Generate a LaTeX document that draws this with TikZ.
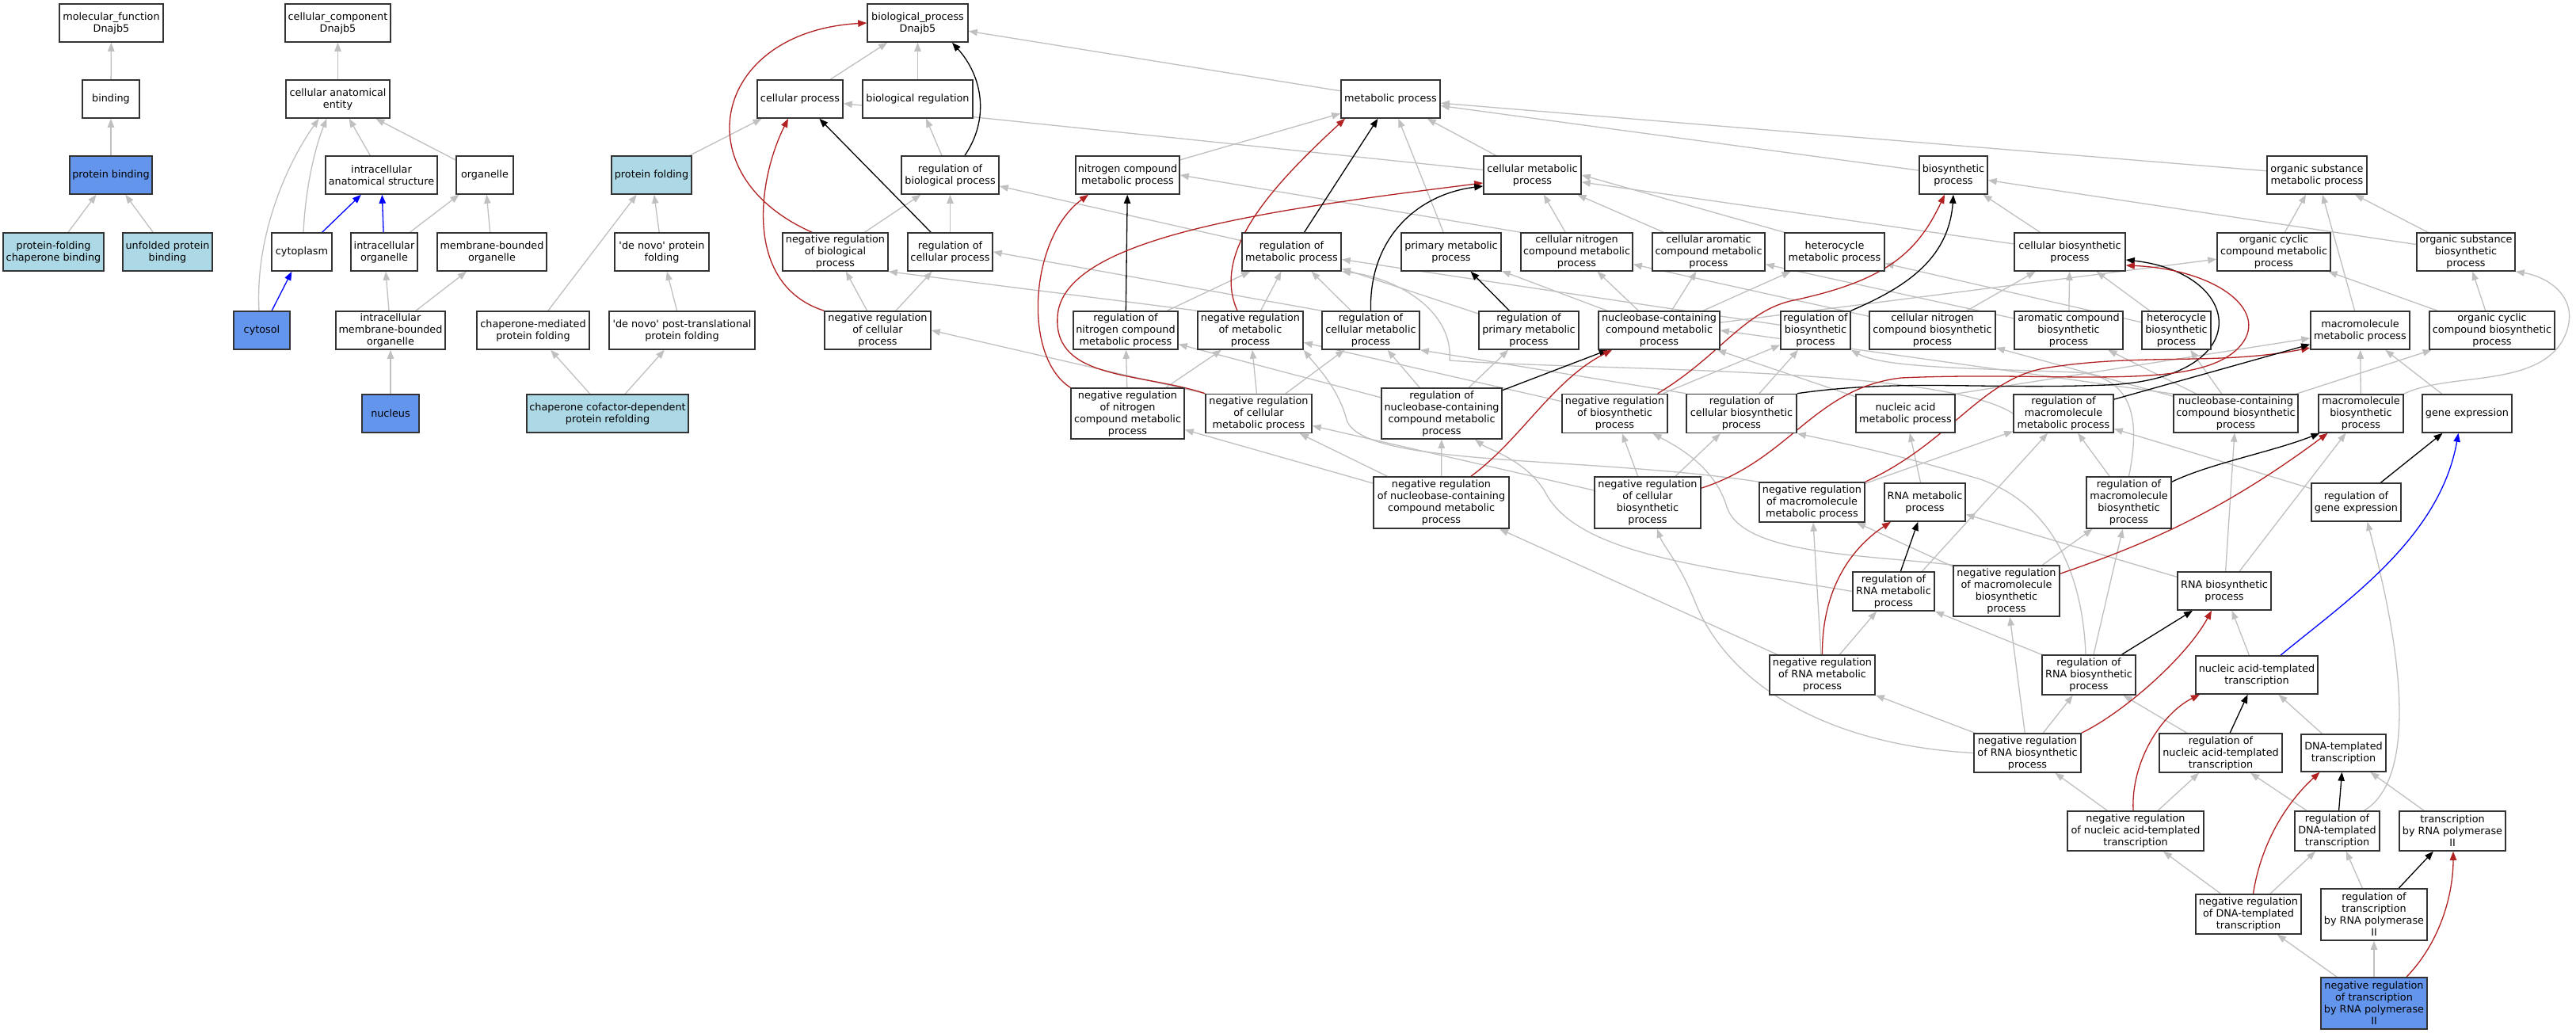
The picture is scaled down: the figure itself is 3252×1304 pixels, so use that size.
\documentclass[tikz,border=0pt]{standalone}
\usepackage{fontspec}
\setmainfont{DejaVu Sans}
\usetikzlibrary{arrows.meta}
\definecolor{eg}{HTML}{C0C0C0}
\definecolor{fb}{HTML}{B22222}
\definecolor{cfb}{HTML}{6495ED}
\definecolor{lbl}{HTML}{ADD8E6}
\pgfdeclarelayer{bgzero}
\pgfdeclarelayer{edges}
\pgfsetlayers{bgzero,edges,main}
\newcommand\gn[7]{\node[box,bx={#4}{#5},#6] (#1) at (#2,#3) {#7};}
\newcommand\dn{\textquotesingle de novo\textquotesingle}
\begin{document}
\begin{tikzpicture}[x=0.5pt,y=-0.5pt,
  box/.style={draw=black!80, line width=0.8pt, fill=white, inner sep=0pt, align=center, font=\fontsize{6.4}{7.5}\selectfont},
  bx/.style 2 args={minimum width=#1*0.5pt, minimum height=#2*0.5pt},
  dk/.style={fill=cfb}, lt/.style={fill=lbl},
  ge/.style={draw=eg, line width=0.65pt, -{Triangle[length=5.5pt,width=4.2pt]}},
  bk/.style={draw=black, line width=0.65pt, -{Triangle[length=5.5pt,width=4.2pt]}},
  rd/.style={draw=fb, line width=0.65pt, -{Triangle[length=5.5pt,width=4.2pt]}},
  bl/.style={draw=blue, line width=0.65pt, -{Triangle[length=5.5pt,width=4.2pt]}},
]
\useasboundingbox (0,0) rectangle (3252,1304);
\begin{pgfonlayer}{bgzero}
\fill[white] (0,0) rectangle (3252,1304);
\end{pgfonlayer}
% Row A
\gn{mf}{140.5}{29}{131}{48}{}{molecular\_function\\Dnajb5}
\gn{cc}{426.5}{29}{133}{48}{}{cellular\_component\\Dnajb5}
\gn{bp}{1158.5}{29}{127}{48}{}{biological\_process\\Dnajb5}
% Row B
\gn{binding}{140}{125}{72}{48}{}{binding}
\gn{cae}{426.5}{125}{131}{48}{}{cellular anatomical\\entity}
\gn{cellproc}{1010}{125}{108}{48}{}{cellular process}
\gn{bioreg}{1158.5}{125}{139}{48}{}{biological regulation}
\gn{metab}{1755.5}{125}{125}{48}{}{metabolic process}
% Row C
\gn{protbind}{140}{221}{104}{48}{dk}{protein binding}
\gn{ias}{481.5}{221}{141}{48}{}{intracellular\\anatomical structure}
\gn{organelle}{612}{221}{72}{48}{}{organelle}
\gn{protfold}{822.5}{221}{101}{48}{lt}{protein folding}
\gn{regbp}{1199.5}{221}{123}{48}{}{regulation of\\biological process}
\gn{ncmp}{1423.5}{221}{131}{48}{}{nitrogen compound\\metabolic process}
\gn{cmp}{1934.5}{221}{123}{48}{}{cellular metabolic\\process}
\gn{biosyn}{2466}{221}{86}{48}{}{biosynthetic\\process}
\gn{osmp}{2925}{221}{126}{48}{}{organic substance\\metabolic process}
% Row D
\gn{pfcb}{67.5}{318}{127}{48}{lt}{protein-folding\\chaperone binding}
\gn{upb}{211.5}{318}{113}{48}{lt}{unfolded protein\\binding}
\gn{cytoplasm}{381}{318}{76}{48}{}{cytoplasm}
\gn{io}{485}{318}{84}{48}{}{intracellular\\organelle}
\gn{mbo}{621}{318}{138}{48}{}{membrane-bounded\\organelle}
\gn{dnpf}{835.5}{318}{119}{48}{}{\dn{} protein\\folding}
\gn{nrbp}{1054.5}{318}{133}{48}{}{negative regulation\\of biological\\process}
\gn{rcp}{1199.5}{318}{107}{48}{}{regulation of\\cellular process}
\gn{rmp}{1630.5}{318}{125}{48}{}{regulation of\\metabolic process}
\gn{pmp}{1832}{318}{126}{48}{}{primary metabolic\\process}
\gn{cncmp}{1990.5}{318}{141}{48}{}{cellular nitrogen\\compound metabolic\\process}
\gn{camp}{2157}{318}{142}{48}{}{cellular aromatic\\compound metabolic\\process}
\gn{hmp}{2316}{318}{126}{48}{}{heterocycle\\metabolic process}
\gn{cbp}{2613}{318}{140}{48}{}{cellular biosynthetic\\process}
\gn{occmp}{2870.5}{318}{143}{48}{}{organic cyclic\\compound metabolic\\process}
\gn{osbp}{3113}{318}{124}{48}{}{organic substance\\biosynthetic\\process}
% Row E
\gn{cytosol}{330.5}{417}{71}{48}{dk}{cytosol}
\gn{imbo}{493}{417}{138}{48}{}{intracellular\\membrane-bounded\\organelle}
\gn{cmpf}{673}{417}{142}{48}{}{chaperone-mediated\\protein folding}
\gn{dnptpf}{861}{417}{184}{48}{}{\dn{} post-translational\\protein folding}
\gn{nrcp}{1108}{417}{134}{48}{}{negative regulation\\of cellular\\process}
\gn{rncmp}{1421}{417}{132}{48}{}{regulation of\\nitrogen compound\\metabolic process}
\gn{nrmp}{1578.5}{417}{133}{48}{}{negative regulation\\of metabolic\\process}
\gn{rcmp}{1730.5}{417}{123}{48}{}{regulation of\\cellular metabolic\\process}
\gn{rpmp}{1930}{417}{126}{48}{}{regulation of\\primary metabolic\\process}
\gn{ncbcmp}{2094.5}{417}{153}{48}{}{nucleobase-containing\\compound metabolic\\process}
\gn{rbp}{2292}{417}{88}{48}{}{regulation of\\biosynthetic\\process}
\gn{cncbp}{2439.5}{417}{159}{48}{}{cellular nitrogen\\compound biosynthetic\\process}
\gn{acbp}{2611.5}{417}{137}{48}{}{aromatic compound\\biosynthetic\\process}
\gn{hbp}{2747.5}{417}{87}{48}{}{heterocycle\\biosynthetic\\process}
\gn{mmp}{2979.5}{417}{125}{48}{}{macromolecule\\metabolic process}
\gn{occbp}{3146}{417}{158}{48}{}{organic cyclic\\compound biosynthetic\\process}
% Row F
\gn{nucleus}{493}{522}{72}{48}{dk}{nucleus}
\gn{ccdprf}{767}{522}{204}{48}{lt}{chaperone cofactor-dependent\\protein refolding}
\gn{nrncmp}{1423.5}{522}{143}{64}{}{negative regulation\\of nitrogen\\compound metabolic\\process}
\gn{nrcmp}{1589}{522}{134}{49}{}{negative regulation\\of cellular\\metabolic process}
\gn{rncbcmp}{1820}{522}{152}{64}{}{regulation of\\nucleobase-containing\\compound metabolic\\process}
\gn{nrbsp}{2038.5}{522}{133}{49}{}{negative regulation\\of biosynthetic\\process}
\gn{rcbp}{2198.5}{522}{139}{49}{}{regulation of\\cellular biosynthetic\\process}
\gn{namp}{2405.5}{522}{125}{48}{}{nucleic acid\\metabolic process}
\gn{rmmp}{2605}{522}{126}{48}{}{regulation of\\macromolecule\\metabolic process}
\gn{ncbcbp}{2822.5}{522}{157}{48}{}{nucleobase-containing\\compound biosynthetic\\process}
\gn{mbp}{2980.5}{522}{107}{48}{}{macromolecule\\biosynthetic\\process}
\gn{gexp}{3114.5}{522}{113}{48}{}{gene expression}
% Row G
\gn{nrncbcmp}{1819.5}{634.5}{171}{65}{}{negative regulation\\of nucleobase-containing\\compound metabolic\\process}
\gn{nrcbp}{2080}{634.5}{134}{65}{}{negative regulation\\of cellular\\biosynthetic\\process}
\gn{nrmmp}{2287.5}{634}{133}{50}{}{negative regulation\\of macromolecule\\metabolic process}
\gn{rnamp}{2430}{634}{102}{48}{}{RNA metabolic\\process}
\gn{rmbp}{2687.5}{634.5}{107}{65}{}{regulation of\\macromolecule\\biosynthetic\\process}
\gn{rge}{2974.5}{634}{113}{48}{}{regulation of\\gene expression}
% Row H
\gn{rrnamp}{2390.5}{746.5}{103}{49}{}{regulation of\\RNA metabolic\\process}
\gn{nrmbp}{2533}{746}{134}{64}{}{negative regulation\\of macromolecule\\biosynthetic\\process}
\gn{rnabp}{2808}{746}{118}{48}{}{RNA biosynthetic\\process}
% Row I
\gn{nrrnamp}{2300.5}{852}{133}{50}{}{negative regulation\\of RNA metabolic\\process}
\gn{rrnabp}{2637}{852}{118}{50}{}{regulation of\\RNA biosynthetic\\process}
\gn{natt}{2849}{852}{154}{48}{}{nucleic acid-templated\\transcription}
% Row J
\gn{nrrnabp}{2559.5}{950.5}{135}{49}{}{negative regulation\\of RNA biosynthetic\\process}
\gn{rnatt}{2803.5}{950.5}{155}{49}{}{regulation of\\nucleic acid-templated\\transcription}
\gn{dnatt}{2958.5}{950.5}{107}{47}{}{DNA-templated\\transcription}
% Row K
\gn{nrnatt}{2696}{1049}{172}{50}{}{negative regulation\\of nucleic acid-templated\\transcription}
\gn{rdnatt}{2950.5}{1049}{107}{50}{}{regulation of\\DNA-templated\\transcription}
\gn{trp2}{3096}{1049}{134}{50}{}{transcription\\by RNA polymerase\\II}
% Row L, M
\gn{nrdnatt}{2838.5}{1154}{133}{50}{}{negative regulation\\of DNA-templated\\transcription}
\gn{rtrp2}{2997}{1154.5}{134}{65}{}{regulation of\\transcription\\by RNA polymerase\\II}
\gn{nrtrp2}{2997}{1266.5}{134}{65}{dk}{negative regulation\\of transcription\\by RNA polymerase\\II}

\begin{pgfonlayer}{edges}
% left part
\draw[ge] (binding) -- (mf);
\draw[ge] (protbind) -- (binding);
\draw[ge] (pfcb) -- (protbind);
\draw[ge] (upb) -- (protbind);
\draw[ge] (cae) -- (cc);
\draw[ge] (ias) -- (cae);
\draw[ge] (organelle) -- (cae);
\draw[ge] ([xshift=-1.75pt]cytosol.north) .. controls (322,300) and (360,210) .. ([xshift=-12pt]cae.south);
\draw[ge] ([xshift=1pt]cytoplasm.north) .. controls (386,230) and (400,180) .. ([xshift=-7pt]cae.south);
\draw[ge] (io) -- (organelle);
\draw[ge] (mbo) -- (organelle);
\draw[ge] (imbo) -- (io);
\draw[ge] (imbo) -- (mbo);
\draw[ge] (nucleus) -- (imbo);
\draw[bl] (cytoplasm) -- (ias);
\draw[bl] (io) -- (ias);
\draw[bl] (cytosol) -- (cytoplasm);
\draw[ge] (protfold) -- (cellproc);
\draw[ge] (dnpf) -- (protfold);
\draw[ge] (cmpf) -- (protfold);
\draw[ge] (dnptpf) -- (dnpf);
\draw[ge] (ccdprf) -- (cmpf);
\draw[ge] (ccdprf) -- (dnptpf);
% biological process, gray
\draw[ge] (cellproc) -- (bp);
\draw[ge] (bioreg) -- (bp);
\draw[ge] (metab) -- (bp);
\draw[ge] (regbp) -- (bioreg);
\draw[ge] (ncmp) -- (metab);
\draw[ge] (cmp) -- (metab);
\draw[ge] (cmp) -- (cellproc);
\draw[ge] (biosyn) -- (metab);
\draw[ge] (osmp) -- (metab);
\draw[ge] (pmp) -- (metab);
\draw[ge] (nrbp) -- (regbp);
\draw[ge] (rcp) -- (regbp);
\draw[ge] (rmp) -- (regbp);
\draw[ge] (cncmp.north west) -- (ncmp.east);
\draw[ge] (cncmp) -- (cmp);
\draw[ge] (camp) -- (cmp);
\draw[ge] (hmp.north west) -- (cmp.east);
\draw[ge] (cbp) -- (cmp);
\draw[ge] (cbp) -- (biosyn);
\draw[ge] (osbp) -- (biosyn);
\draw[ge] (osbp) -- (osmp);
\draw[ge] (occmp) -- (osmp);
\draw[ge] (mmp) -- (osmp);
\draw[ge] (occbp) -- (osbp);
\draw[ge] (occbp) -- (occmp);
\draw[ge] (nrcp) -- (nrbp);
\draw[ge] (nrcp) -- (rcp);
\draw[ge] (nrmp.north west) -- (nrbp.south east);
\draw[ge] (nrmp) -- (rmp);
\draw[ge] (rncmp) -- (rmp);
\draw[ge] (rcmp) -- (rmp);
\draw[ge] (rcmp.north west) -- (rcp.east);
\draw[ge] (rpmp) -- (rmp);
\draw[ge] (rbp) -- (rmp);
\draw[ge] (ncbcmp) -- (pmp);
\draw[ge] (ncbcmp) -- (cncmp);
\draw[ge] (ncbcmp) -- (camp);
\draw[ge] (ncbcmp) -- (hmp);
\draw[ge] (ncbcmp) -- (occmp);
\draw[ge] (cncbp) -- (cncmp);
\draw[ge] (cncbp) -- (cbp);
\draw[ge] (acbp) -- (cbp);
\draw[ge] (acbp) -- (camp);
\draw[ge] (hbp) -- (cbp);
\draw[ge] (hbp) -- (hmp);
\draw[ge] (nrncmp) -- (nrmp);
\draw[ge] (nrncmp) -- (rncmp);
\draw[ge] (nrcmp.north west) -- (nrcp.east);
\draw[ge] (nrcmp) -- (nrmp);
\draw[ge] (nrcmp) -- (rcmp);
\draw[ge] (rncbcmp) -- (rcmp);
\draw[ge] (rncbcmp) -- (rpmp);
\draw[ge] (rncbcmp) -- (rncmp);
\draw[ge] (nrbsp) -- (rbp);
\draw[ge] (nrbsp) -- (nrmp);
\draw[ge] (rcbp) -- (rbp);
\draw[ge] (rcbp.north west) -- (rcmp.south east);
\draw[ge] (namp) -- (ncbcmp);
\draw[ge] (namp.north east) -- (mmp);
\draw[ge] (ncbcbp.north west) -- (ncbcmp.east);
\draw[ge] (ncbcbp) -- (cncbp);
\draw[ge] (ncbcbp) -- (acbp);
\draw[ge] (ncbcbp) -- (hbp);
\draw[ge] (ncbcbp) -- (occbp);
\draw[ge] (mbp) -- (mmp);
\draw[ge] (gexp) -- (mmp);
\draw[ge] (rmmp.west) .. controls (2450,462) and (2000,468) .. (1830,455) .. controls (1835,390) and (1760,350) .. (rmp.south east);
\draw[ge] (mbp.north east) .. controls (3090,470) and (3200,490) .. (3235,430) .. controls (3262,380) and (3220,350) .. (osbp.south east);
\draw[ge] (nrncbcmp) -- (nrncmp);
\draw[ge] (nrncbcmp) -- (nrcmp);
\draw[ge] (nrncbcmp) -- (rncbcmp);
\draw[ge] (nrcbp) -- (nrcmp);
\draw[ge] (nrcbp) -- (nrbsp);
\draw[ge] (nrcbp) -- (rcbp);
\draw[ge] (nrmmp.north west) .. controls (2000,575) and (1720,590) .. (1700,530) .. controls (1690,490) and (1660,460) .. (nrmp.south east);
\draw[ge] (nrmmp) -- (rmmp);
\draw[ge] (rnamp) -- (namp);
\draw[ge] (rmbp) -- (rmmp);
\draw[ge] (rmbp.north) .. controls (2700,540) and (2700,475) .. (2620,470) .. controls (2500,465) and (2380,465) .. (rbp.south east);
\draw[ge] (rge) -- (rmmp);
\draw[ge] (rrnamp.west) .. controls (2150,715) and (1990,700) .. (1950,620) .. controls (1925,580) and (1880,568) .. ([xshift=21pt]rncbcmp.south);
\draw[ge] ([xshift=18pt]rrnamp.north) -- ([xshift=-10pt]rmmp.south);
\draw[ge] (nrmbp) -- (rmbp);
\draw[ge] (nrmbp) -- (nrmmp);
\draw[ge] (nrmbp.north west) .. controls (2350,700) and (2200,700) .. (2180,640) .. controls (2165,590) and (2120,565) .. ([xshift=24pt]nrbsp.south);
\draw[ge] (rnabp) -- (ncbcbp);
\draw[ge] (rnabp) -- (mbp);
\draw[ge] (rnabp) -- (rnamp);
\draw[ge] (rrnabp) -- (rmbp);
\draw[ge] (rrnabp.north west) -- (rrnamp.south east);
\draw[ge] ([xshift=-2pt]rrnabp.north) .. controls (2630,740) and (2600,640) .. (2500,605) .. controls (2400,575) and (2330,560) .. (rcbp.south east);
\draw[ge] (nrrnamp) -- (rrnamp);
\draw[ge] (nrrnamp) -- (nrmmp);
\draw[ge] (nrrnamp) -- (nrncbcmp);
\draw[ge] (natt) -- (rnabp);
\draw[ge] (nrrnabp) -- (nrrnamp);
\draw[ge] (nrrnabp) -- (rrnabp);
\draw[ge] (nrrnabp) -- (nrmbp);
\draw[ge] (nrrnabp.west) .. controls (2300,940) and (2180,860) .. (2140,760) .. controls (2120,710) and (2100,690) .. ([xshift=6pt]nrcbp.south);
\draw[ge] (rnatt) -- (rrnabp);
\draw[ge] (dnatt) -- (natt);
\draw[ge] (nrnatt) -- (nrrnabp);
\draw[ge] (nrnatt) -- (rnatt);
\draw[ge] (rdnatt) -- (rnatt);
\draw[ge] ([xshift=17pt]rdnatt.north) .. controls (3040,990) and (3045,870) .. ([xshift=7pt]rge.south);
\draw[ge] (trp2) -- (dnatt);
\draw[ge] (rtrp2) -- (rdnatt);
\draw[ge] (nrdnatt) -- (nrnatt);
\draw[ge] (nrdnatt) -- (rdnatt);
\draw[ge] (nrtrp2) -- (nrdnatt);
\draw[ge] (nrtrp2) -- (rtrp2);
% regulates (black) and negatively regulates (red)
\draw[bk] ([xshift=9.25pt]regbp.north) .. controls +(32,-47) and +(38,42) .. ([xshift=21.75pt]bp.south);
\draw[rd] ([xshift=-14.75pt]nrbp.north) .. controls (860,220) and (900,40) .. (bp.west);
\draw[bk] (rcp) -- (cellproc);
\draw[rd] (nrcp.north west) .. controls (940,360) and (955,230) .. ([xshift=-7.5pt]cellproc.south);
\draw[bk] (rncmp) -- (ncmp);
\draw[rd] (nrncmp.north west) .. controls (1290,450) and (1300,300) .. ([xshift=-24.75pt]ncmp.south);
\draw[rd] (nrcmp.north west) .. controls (1440,470) and (1330,480) .. (1335,400) .. controls (1340,300) and (1600,265) .. ([yshift=-5pt]cmp.west);
\draw[rd] ([xshift=-8.25pt]nrmp.north) .. controls (1530,320) and (1600,240) .. ([xshift=-28.75pt]metab.south);
\draw[bk] (rmp) -- (metab);
\draw[bk] (rcmp.north) .. controls (1728,300) and (1790,245) .. ([yshift=-7pt]cmp.west);
\draw[bk] (rpmp) -- (pmp);
\draw[bk] (rncbcmp) -- (ncbcmp);
\draw[rd] ([xshift=18.75pt]nrncbcmp.north) .. controls (1920,555) and (1960,480) .. ([xshift=-29.75pt]ncbcmp.south);
\draw[rd] ([xshift=-6.5pt]nrbsp.north east) .. controls (2170,450) and (2200,395) .. (2260,380) .. controls (2380,355) and (2420,320) .. ([xshift=-5.5pt]biosyn.south);
\draw[bk] (rbp.north east) .. controls (2400,365) and (2460,330) .. (biosyn.south);
\draw[bk] (rcbp.north east) .. controls (2400,478) and (2500,492) .. (2660,486) .. controls (2850,478) and (2835,345) .. ([yshift=-5pt]cbp.east);
\draw[rd] ([yshift=-7.5pt]nrcbp.north east) .. controls (2260,580) and (2290,490) .. (2400,477) .. controls (2600,468) and (2770,495) .. (2825,440) .. controls (2870,395) and (2800,340) .. ([yshift=-8.5pt]cbp.east);
\draw[rd] (nrmmp.north east) .. controls (2460,560) and (2500,480) .. (2580,465) .. controls (2700,445) and (2800,462) .. ([yshift=-11pt]mmp.west);
\draw[bk] (rmmp) -- (mmp);
\draw[bk] ([yshift=-3.5pt]rmbp.north east) .. controls (2790,585) and (2870,570) .. ([xshift=-26pt]mbp.south);
\draw[rd] ([yshift=-5.5pt]nrmbp.north east) .. controls (2700,690) and (2800,650) .. ([xshift=-21pt]mbp.south);
\draw[bk] (rge) -- (gexp);
\draw[bl] ([xshift=15pt]natt.north) .. controls (2960,760) and (3080,680) .. ([xshift=-5.5pt]gexp.south);
\draw[bk] (rrnabp) -- (rnabp);
\draw[rd] (nrrnabp.north east) .. controls (2680,900) and (2760,830) .. ([xshift=-8pt]rnabp.south);
\draw[bk] (rrnamp) -- (rnamp);
\draw[rd] (nrrnamp.north) .. controls (2300,740) and (2340,690) .. ([xshift=-21.5pt]rnamp.south);
\draw[bk] (rnatt) -- (natt);
\draw[rd] ([xshift=-1.5pt]nrnatt.north) .. controls (2690,960) and (2730,900) .. ([xshift=-36pt]natt.south);
\draw[bk] (rdnatt) -- (dnatt);
\draw[rd] ([xshift=3pt]nrdnatt.north) .. controls (2855,1060) and (2890,1010) .. ([xshift=-15pt]dnatt.south);
\draw[bk] (rtrp2) -- (trp2);
\draw[rd] ([xshift=20.5pt]nrtrp2.north) .. controls (3080,1190) and (3097,1130) .. ([xshift=0.5pt]trp2.south);
\end{pgfonlayer}
\end{tikzpicture}
\end{document}
